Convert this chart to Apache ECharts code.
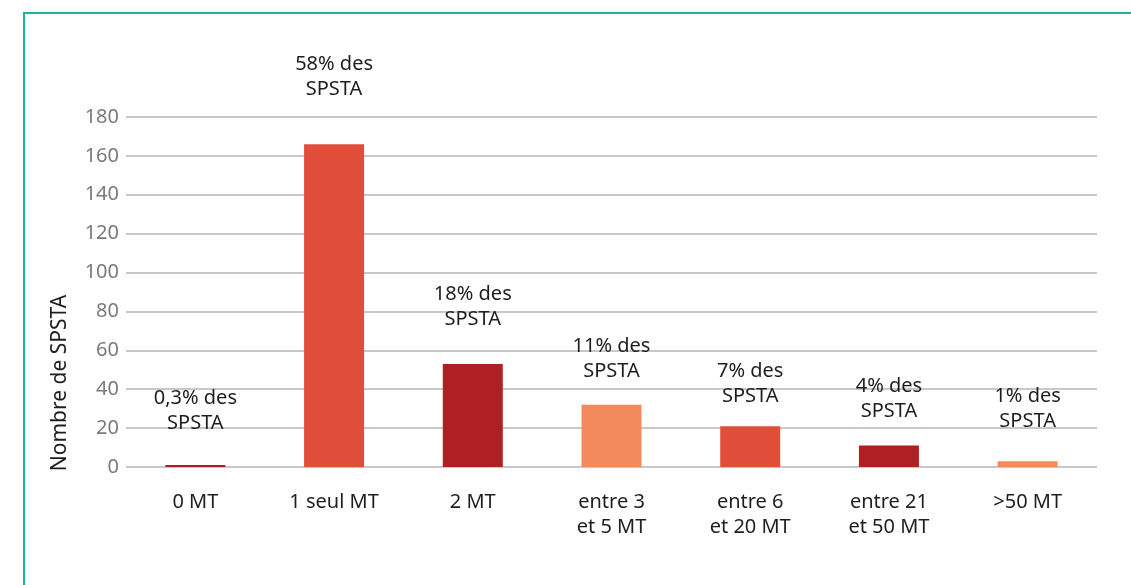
<!DOCTYPE html>
<html>
<head>
<meta charset="utf-8">
<script src="https://cdn.jsdelivr.net/npm/echarts@6/dist/echarts.min.js"></script>
<style>
	html, body { margin: 0; padding: 0; background: #fff; }
	#chart { width: 1131px; height: 585px; }
</style>
</head>
<body>
<div id="chart"></div>
<script>
// categories and values
const categories = ['0 MT', '1 seul MT', '2 MT', 'entre 3\net 5 MT', 'entre 6\net 20 MT', 'entre 21\net 50 MT', '>50 MT']
const values = [1, 166, 53, 32, 21, 11, 3]
const shares = ['0,3% des', '58% des', '18% des', '11% des', '7% des', '4% des', '1% des']

// styles
const barColors = ['#b01f21', '#e04e39', '#b01f21', '#f28a5e', '#e04e39', '#b01f21', '#f28a5e']
const labelGap = [29, 42, 32, 21, 17, 22, 27]
const font = 'Noto Sans'

const chart = echarts.init(document.getElementById('chart'))

const option = {
	animation: false,
	backgroundColor: '#fff',
	grid: {
		left: 126,
		right: 34,
		top: 117,
		height: 350
	},
	xAxis: {
		type: 'category',
		data: categories,
		axisLine: { show: false },
		axisTick: { show: false },
		axisLabel: {
			color: '#1e1e1e',
			fontFamily: font,
			fontSize: 20,
			lineHeight: 25,
			margin: 23,
			interval: 0
		}
	},
	yAxis: {
		type: 'value',
		min: 0,
		max: 180,
		interval: 20,
		axisLine: { show: false },
		axisTick: { show: false },
		axisLabel: {
			color: '#7a7a7a',
			fontFamily: font,
			fontSize: 20,
			margin: 7
		},
		splitLine: {
			lineStyle: { color: '#c8c8c8', width: 2 }
		}
	},
	series: [
		{
			type: 'bar',
			barWidth: 60,
			data: values.map((v, i) => ({
				value: v,
				itemStyle: { color: barColors[i] },
				label: {
					show: true,
					position: 'top',
					distance: labelGap[i],
					formatter: shares[i] + '\nSPSTA',
					color: '#1e1e1e',
					fontFamily: font,
					fontSize: 20,
					lineHeight: 25
				}
			}))
		}
	],
	graphic: [
		{
			type: 'polyline',
			shape: { points: [[24, 585], [24, 13], [1131, 13]] },
			style: { stroke: '#1ab59b', lineWidth: 2, fill: null }
		},
		{
			type: 'text',
			x: 60,
			y: 383,
			rotation: Math.PI / 2,
			style: {
				text: 'Nombre de SPSTA',
				fill: '#1e1e1e',
				font: '21px "Noto Sans"',
				align: 'center',
				verticalAlign: 'middle'
			}
		}
	]
}

chart.setOption(option)
</script>
</body>
</html>
